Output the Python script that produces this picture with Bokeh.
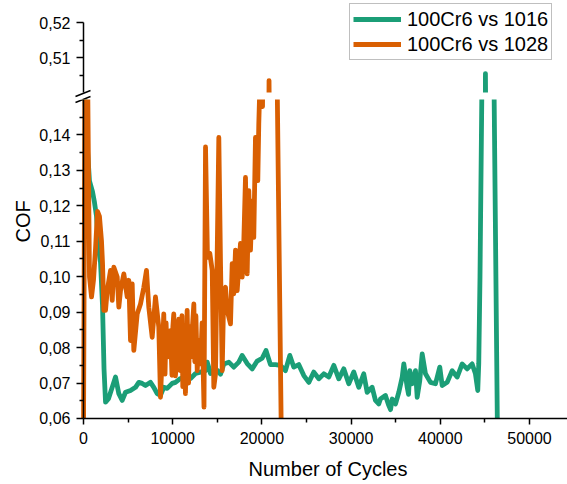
import math
from bokeh.plotting import figure
from bokeh.models import (Range1d, FixedTicker, CustomJSTickFormatter, Legend, LegendItem, Label,
                          BoxAnnotation, Arrow)
from bokeh.layouts import column
from bokeh.embed import file_html
from bokeh.resources import INLINE

# ---------------- data ----------------
series_names = ["100Cr6 vs 1016", "100Cr6 vs 1028"]

cycles_1016 = [0, 340, 670, 1010, 1230, 1460, 1680, 1910, 2130, 2300, 2470, 2800, 3220, 3590, 3960,
               4340, 4710, 5270, 5830, 6200, 6580, 6950, 7510, 7880, 8260, 8630, 9000, 9380, 9940,
               10310, 10870, 11430, 12000, 12560, 13120, 13680, 13870, 14240, 14800, 15360, 15730,
               16290, 16850, 17410, 17790, 18350, 18910, 19470, 20030, 20460, 20960, 21520, 22080,
               22640, 23130, 23570, 24130, 24700, 25260, 25820, 26380, 26940, 27500, 28060, 28620,
               29180, 29740, 30300, 30860, 31420, 31800, 32360, 32730, 33100, 33290, 33850, 34220,
               34420, 34610, 34980, 35350, 35730, 35910, 36290, 36440, 36580, 36850, 37220, 37410,
               37700, 37970, 38340, 38900, 39460, 39940, 40210, 40770, 41330, 41890, 42450, 43010,
               43570, 43940, 44200, 44310, 44450, 44730, 45060, 45340, 45960, 46410]
cof_1016 = [0.160, 0.140, 0.127, 0.124, 0.121, 0.117, 0.108, 0.104, 0.092, 0.074, 0.0646, 0.0656,
            0.0688, 0.0717, 0.0670, 0.0651, 0.0674, 0.0679, 0.0688, 0.0702, 0.0699, 0.0693, 0.0702,
            0.0688, 0.0670, 0.0665, 0.0688, 0.0685, 0.0699, 0.0702, 0.0713, 0.0717, 0.0713, 0.0727,
            0.0731, 0.0735, 0.0759, 0.0727, 0.0741, 0.0725, 0.0754, 0.0759, 0.0745, 0.0759, 0.0778,
            0.0755, 0.0740, 0.0762, 0.0770, 0.0792, 0.0752, 0.0752, 0.0750, 0.0735, 0.0778, 0.0745,
            0.0752, 0.0721, 0.0702, 0.0731, 0.0712, 0.0726, 0.0717, 0.0750, 0.0712, 0.0740, 0.0698,
            0.0731, 0.0688, 0.0726, 0.0674, 0.0688, 0.0651, 0.0641, 0.0655, 0.0665, 0.0637, 0.0625,
            0.0655, 0.0641, 0.0674, 0.0717, 0.0754, 0.0688, 0.0668, 0.0735, 0.0698, 0.0735, 0.0660,
            0.0707, 0.0782, 0.0726, 0.0702, 0.0698, 0.0745, 0.0693, 0.0702, 0.0735, 0.0717, 0.0754,
            0.0740, 0.0754, 0.0726, 0.0679, 0.0754, 0.100, 0.170, 0.5054, 0.400, 0.170, 0.055]

cycles_1028 = [0, 170, 450, 670, 900, 1120, 1350, 1570, 1790, 2020, 2130, 2280, 2470, 2660, 3030,
               3220, 3400, 3780, 3960, 4150, 4520, 4900, 5080, 5270, 5460, 5640, 6020, 6390, 6760,
               7060, 7320, 7700, 8070, 8440, 8630, 8820, 9000, 9140, 9260, 9380, 9750, 9920, 10020,
               10120, 10300, 10500, 10680, 10870, 11040, 11130, 11240, 11430, 11620, 11780, 11890,
               12000, 12370, 12480, 12600, 12750, 12930, 13120, 13300, 13510, 13680, 13900,
               14160, 14430, 14610, 14800, 15170, 15360, 15550, 15730, 15920, 16110, 16480, 16670,
               16850, 17040, 17230, 17600, 17790, 17970, 18160, 18350, 18530, 18720, 18910, 19090,
               19280, 19540, 19650, 19840, 20070, 20230, 20800, 20960, 21640, 22200]
cof_1028 = [0.055, 0.160, 0.160, 0.100, 0.0943, 0.099, 0.108, 0.1184, 0.117, 0.110, 0.104, 0.0905,
            0.0905, 0.0961, 0.1018, 0.0933, 0.1027, 0.0999, 0.0914, 0.0961, 0.1008, 0.0943, 0.0990,
            0.0820, 0.0980, 0.0792, 0.0895, 0.0923, 0.0970, 0.1018, 0.0914, 0.0829, 0.0943, 0.0858,
            0.0660, 0.0773, 0.0895, 0.0725, 0.0870, 0.0773, 0.0848, 0.0722, 0.0860, 0.0895, 0.0720,
            0.0773, 0.0880, 0.0735, 0.0890, 0.0690, 0.0829, 0.0670, 0.0905, 0.0700, 0.0860, 0.0773,
            0.0923, 0.0760, 0.0890, 0.0735, 0.0820, 0.0754, 0.0870, 0.0632, 0.1366, 0.1055, 0.1066,
            0.1018, 0.0688, 0.0726, 0.1393, 0.1037, 0.0735, 0.0961, 0.0970, 0.0905, 0.0867, 0.1037,
            0.0952, 0.1075, 0.0961, 0.1094, 0.0999, 0.1098, 0.1280, 0.1008, 0.1243, 0.1075, 0.1214,
            0.1111, 0.1393, 0.1271, 0.1431, 0.160, 0.148, 0.200, 0.5034, 0.450, 0.170, 0.050]

x_ticks = [0, 10000, 20000, 30000, 40000, 50000]
x_minor_ticks = [5000, 15000, 25000, 35000, 45000]
lower_ticks = [0.06, 0.07, 0.08, 0.09, 0.10, 0.11, 0.12, 0.13, 0.14]
lower_minor_ticks = [0.065, 0.075, 0.085, 0.095, 0.105, 0.115, 0.125, 0.135, 0.145]
upper_ticks = [0.51, 0.52]
upper_minor_ticks = [0.505, 0.515]
x_title = "Number of Cycles"
y_title = "COF"

# ---------------- styling / layout ----------------
FONT = "Liberation Sans"
GREEN = "#1b9e77"
ORANGE = "#d95f02"
LW = 4.8

# Both frames span the whole width; axes are pinned with fixed_location so that
# the titles and the axis-break marks can live inside the frames.
x_range = Range1d(-9305, 54260)
fmt = CustomJSTickFormatter(code="return tick.toFixed(2).replace('.', ',');")

top = figure(width=567, height=99, x_range=x_range, y_range=Range1d(0.498, 0.52629),
             x_axis_location=None, output_backend="svg", toolbar_location=None,
             min_border_left=0, min_border_right=0, min_border_top=0, min_border_bottom=0)
bot = figure(width=567, height=385, x_range=x_range, y_range=Range1d(0.041379, 0.15),
             output_backend="svg", toolbar_location=None,
             min_border_left=0, min_border_right=0, min_border_top=0, min_border_bottom=0)

renderers = {}
for name, p in (("top", top), ("bot", bot)):
    p.grid.visible = False
    p.outline_line_color = None
    p.background_fill_color = "white"
    p.border_fill_color = "white"
    g = p.line(cycles_1016, cof_1016, line_color=GREEN, line_width=LW, line_join="round",
               level="underlay")
    o = p.line(cycles_1028, cof_1028, line_color=ORANGE, line_width=LW, line_join="round",
               level="underlay")
    renderers[name] = (g, o)
    for ax in p.yaxis:
        ax.fixed_location = 0
        ax.formatter = fmt
        ax.axis_line_width = 1.5
        ax.major_tick_line_width = 1.5
        ax.minor_tick_line_width = 1.5
        ax.major_tick_out = 7
        ax.major_tick_in = 0
        ax.minor_tick_out = 4
        ax.minor_tick_in = 0
        ax.major_label_text_font = FONT
        ax.major_label_text_font_size = "16px"
        ax.major_label_text_color = "black"
        ax.major_label_standoff = 6

top.yaxis.ticker = FixedTicker(ticks=upper_ticks, minor_ticks=upper_minor_ticks)
top.yaxis.bounds = (0.50, 0.52)
bot.yaxis.ticker = FixedTicker(ticks=lower_ticks, minor_ticks=lower_minor_ticks)
bot.yaxis.bounds = (0.06, 0.15)

xa = bot.xaxis[0]
xa.fixed_location = 0.06
xa.bounds = (0, 54260)
xa.ticker = FixedTicker(ticks=x_ticks, minor_ticks=x_minor_ticks)
xa.axis_line_width = 1.5
xa.major_tick_line_width = 1.5
xa.minor_tick_line_width = 1.5
xa.major_tick_out = 6
xa.major_tick_in = 0
xa.minor_tick_out = 4
xa.minor_tick_in = 0
xa.major_label_text_font = FONT
xa.major_label_text_font_size = "16px"
xa.major_label_text_color = "black"
xa.major_label_standoff = 8

# masks: white gap between the two panels, and nothing below the x axis
top.add_layout(BoxAnnotation(top=0.50, fill_color="white", fill_alpha=1.0, line_alpha=0.0,
                             level="glyph"))
bot.add_layout(BoxAnnotation(top=0.06, fill_color="white", fill_alpha=1.0, line_alpha=0.0,
                             level="glyph"))

# axis titles
bot.add_layout(Label(x=327.5, y=0.045611, x_units="screen", y_units="data", text=x_title,
                     text_align="center", text_baseline="middle",
                     text_font=FONT, text_font_size="20px", text_color="black"))
bot.add_layout(Label(x=22, y=0.1156, x_units="screen", y_units="data", text=y_title,
                     angle=math.pi / 2, text_align="center", text_baseline="middle",
                     text_font=FONT, text_font_size="20px", text_color="black"))

# axis break marks (each panel draws the part that falls in its frame)
for p, segs in ((top, ((0.498857, 0.500571), (0.497143, 0.498857))),
                (bot, ((0.149154, 0.150846),))):
    for y0, y1 in segs:
        p.add_layout(Arrow(start=None, end=None, x_start=-897, y_start=y0, x_end=785, y_end=y1,
                           line_color="black", line_width=1.5))

g_top, o_top = renderers["top"]
legend = Legend(items=[LegendItem(label=series_names[0], renderers=[g_top]),
                       LegendItem(label=series_names[1], renderers=[o_top])],
                location=(349, 39), label_text_font=FONT, label_text_font_size="20px",
                label_text_color="black", border_line_color="#808080", border_line_width=1,
                padding=3, spacing=1, glyph_width=48, glyph_height=24, label_height=24,
                label_standoff=6, margin=0, background_fill_alpha=1.0)
top.add_layout(legend)

layout = column(top, bot, spacing=0)
open("out.html", "w").write(file_html(layout, INLINE))
